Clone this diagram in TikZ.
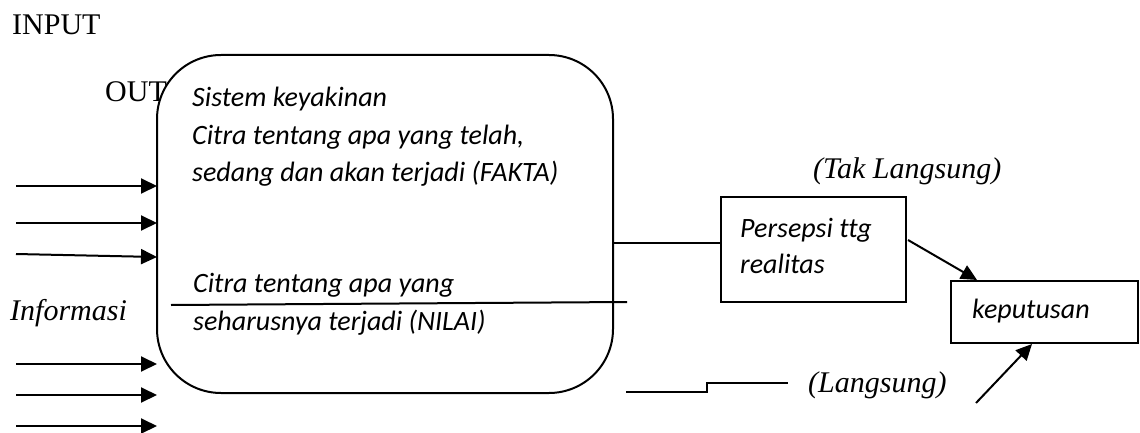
\documentclass[tikz,border=0pt]{standalone}
\usepackage{fontspec}
\setmainfont{Liberation Serif}
\newfontfamily\calfont[Ligatures=NoCommon]{Carlito}
\usetikzlibrary{arrows.meta,calc}
\begin{document}
\begin{tikzpicture}[x=1pt,y=-1pt,
  ln/.style={line width=2pt},
  arr/.style={line width=2pt,-{Triangle[length=16pt,width=15pt]}},
  boxtext/.style={anchor=base west,inner sep=0pt,font=\calfont\itshape\fontsize{28}{32}\selectfont},
  lbl/.style={anchor=base west,inner sep=0pt,font=\fontsize{30}{34}\selectfont},
  rect/.style={draw,line width=2pt,inner sep=0pt}]
\useasboundingbox (0,0) rectangle (1140,433);
\node[lbl] (input) at (12,35) {INPUT};
\node[lbl] (out) at (105,102) {OUT};
\node[lbl,font=\itshape\fontsize{30}{34}\selectfont] (info) at (10,320) {Informasi};
% main system box
\node[draw,fill=white,line width=2pt,rounded corners=64pt,minimum width=456pt,minimum height=338pt,inner sep=0pt] (sys) at (385,224) {};
\node[boxtext] (t1) at (192,107) {Sistem keyakinan};
\node[boxtext] (t2) at (192,145) {Citra tentang apa yang telah,};
\node[boxtext] (t3) at (192,181) {sedang dan akan terjadi (FAKTA)};
\node[boxtext] (t4) at (193,292) {Citra tentang apa yang};
\node[boxtext] (t5) at (193,330) {seharusnya terjadi (NILAI)};
\coordinate (d1) at (171,305);
\coordinate (d2) at (627,302);
\draw[ln] (d1) -- (d2);
% perception box
\node[rect,minimum width=185pt,minimum height=105pt] (pers) at (813.5,249.5) {};
\node[boxtext] (pt1) at (740,237) {Persepsi ttg};
\node[boxtext] (pt2) at (740,273) {realitas};
% decision box
\node[rect,minimum width=187pt,minimum height=62pt] (kep) at (1044.5,312) {};
\node[boxtext] (kt) at (972,318) {keputusan};
% labels
\node[lbl,font=\itshape\fontsize{30}{34}\selectfont] (tak) at (813,178) {(Tak Langsung)};
\node[lbl,font=\itshape\fontsize{30}{34}\selectfont] (lang) at (808,392) {(Langsung)};
% input arrows
\foreach \i/\ya/\yb in {1/186/186,2/223/223,3/254/257,4/364/364,5/395/395,6/426/426}{
  \coordinate (ia\i) at (16,\ya);
  \coordinate (ib\i) at (157,\yb);
  \draw[arr] (ia\i) -- (ib\i);
}
% box to perception
\coordinate (c1) at (613,243);
\draw[ln] (c1) -- (c1 -| pers.west);
% perception to decision
\coordinate (p1) at (908,240);
\draw[arr] (p1) -- ($(kep.north west)+(27,0)$);
% direct path
\coordinate (s1) at (626,392);
\coordinate (s2) at (707,392);
\coordinate (s3) at (707,383);
\coordinate (s4) at (788,383);
\draw[ln] (s1) -- (s2) -- (s3) -- (s4);
\coordinate (q1) at (976,403);
\draw[arr] (q1) -- ($(kep.south)+(-12.5,0)$);
\end{tikzpicture}
\end{document}
